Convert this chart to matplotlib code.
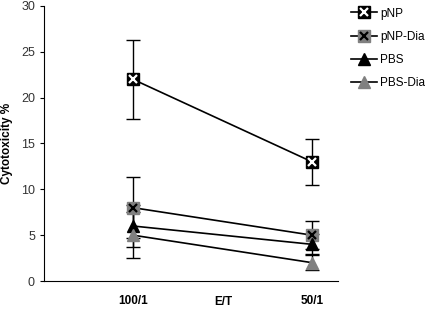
import matplotlib
matplotlib.use("Agg")
import matplotlib.pyplot as plt
import numpy as np

plt.rcParams['font.family'] = ['Liberation Sans', 'DejaVu Sans']

categories = ['100/1', '50/1']
series = ['pNP', 'pNP-Dia', 'PBS', 'PBS-Dia']
values = {
    'pNP':     [22.0, 13.0],
    'pNP-Dia': [8.0, 5.0],
    'PBS':     [6.0, 4.0],
    'PBS-Dia': [5.0, 2.0],
}
errors = {
    'pNP':     [4.3, 2.5],
    'pNP-Dia': [3.3, 1.5],
    'PBS':     [2.3, 1.1],
    'PBS-Dia': [2.5, 0.8],
}
styles = {
    'pNP':     dict(marker='s', mfc='black', mec='black'),
    'pNP-Dia': dict(marker='s', mfc='#808080', mec='#808080'),
    'PBS':     dict(marker='^', mfc='black', mec='black'),
    'PBS-Dia': dict(marker='^', mfc='#808080', mec='#808080'),
}
xcolor = {'pNP': 'white', 'pNP-Dia': 'black'}

fig = plt.figure(figsize=(4.25, 3.09), dpi=100)
ax = fig.add_axes([0.1035, 0.0906, 0.6918, 0.89])
x = np.arange(len(categories))

handles = []
for s in series:
    st = styles[s]
    ax.errorbar(x, values[s], yerr=errors[s], fmt='none', ecolor='black',
                elinewidth=1, capsize=5, capthick=1, zorder=2)
    line, = ax.plot(x, values[s], color='black', lw=1.2, marker=st['marker'],
                    ms=9 if st['marker'] == 's' else 8, mfc=st['mfc'], mec=st['mec'],
                    zorder=3)
    h = [line]
    if s in xcolor:
        xl, = ax.plot(x, values[s], ls='none', marker='x', ms=6, mew=1.6,
                      color=xcolor[s], zorder=4)
        h.append(xl)
    handles.append(tuple(h))

ax.set_xlim(-0.497, 1.145)
ax.set_ylim(0, 30)
ax.set_yticks([0, 5, 10, 15, 20, 25, 30])
ax.set_xticks(x)
ax.set_xticklabels(categories, fontweight='bold', fontsize=8.5)
ax.tick_params(axis='x', length=0, pad=10)
ax.tick_params(axis='y', length=3, labelsize=9, labelcolor='#333333')
for sp in ['top', 'right']:
    ax.spines[sp].set_visible(False)
ax.set_xlabel('E/T', fontweight='bold', fontsize=8.5)
ax.xaxis.set_label_coords(0.609, -0.055)
ax.set_ylabel('Cytotoxicity %', fontweight='bold', fontsize=8.5)
ax.yaxis.set_label_coords(-0.105, 0.5)

fig.legend(handles, series, loc='upper left', bbox_to_anchor=(0.80, 1.01),
           frameon=False, fontsize=8.5, handlelength=2.2, labelspacing=0.95,
           handletextpad=0.3)

fig.savefig('out.png', dpi=100)
